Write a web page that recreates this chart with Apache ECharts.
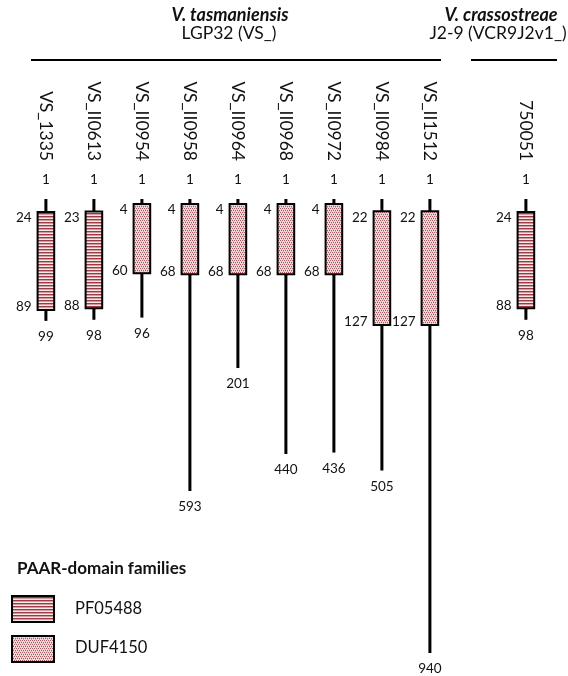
<!DOCTYPE html>
<html>
<head>
<meta charset="utf-8">
<script src="https://cdn.jsdelivr.net/npm/echarts@6.0.0/dist/echarts.min.js"></script>
<style>
  html, body { margin: 0; padding: 0; background: #fff; }
  #chart { width: 568px; height: 676px; }
</style>
</head>
<body>
<div id="chart"></div>
<script>
// proteins (one empty slot keeps the gap between the two strains)
var proteins = ['VS_1335', 'VS_II0613', 'VS_II0954', 'VS_II0958', 'VS_II0964', 'VS_II0968', 'VS_II0972', 'VS_II0984', 'VS_II1512', '', '750051'];
var proteinLength = [99, 98, 96, 593, 201, 440, 436, 505, 940, null, 98];
var domainStart = [24, 23, 4, 4, 4, 4, 4, 22, 22, null, 24];
var domainEnd = [89, 88, 60, 68, 68, 68, 68, 127, 127, null, 88];
var domainFamily = ['PF05488', 'PF05488', 'DUF4150', 'DUF4150', 'DUF4150', 'DUF4150', 'DUF4150', 'DUF4150', 'DUF4150', null, 'PF05488'];
var families = ['PF05488', 'DUF4150'];

var FONT = 'Lato, "Open Sans", sans-serif';

// fill patterns for the two families
function makePattern(w, h, bg, dots) {
  var c = document.createElement('canvas');
  c.width = w;
  c.height = h;
  var ctx = c.getContext('2d');
  ctx.fillStyle = bg;
  ctx.fillRect(0, 0, w, h);
  dots.forEach(function (d) {
    ctx.fillStyle = d[4];
    ctx.fillRect(d[0], d[1], d[2], d[3]);
  });
  return { image: c, repeat: 'repeat' };
}
var patterns = {
  PF05488: makePattern(4, 3, '#f6e8e8', [[0, 0, 4, 1, '#9c3a44'], [0, 1, 4, 1, '#cf9ca0']]),
  DUF4150: makePattern(4, 4, '#efd9da', [
    [0, 0, 1, 1, '#a65a62'], [2, 0, 1, 1, '#a65a62'], [1, 2, 1, 1, '#a65a62'], [3, 2, 1, 1, '#a65a62'],
    [1, 1, 1, 1, '#d6aaae'], [3, 3, 1, 1, '#d6aaae']
  ])
};

var data = [];
proteins.forEach(function (p, i) {
  if (proteinLength[i] == null) return;
  data.push([i, proteinLength[i], domainStart[i], domainEnd[i], families.indexOf(domainFamily[i])]);
});

function numText(str, x, y, align) {
  return {
    type: 'text',
    style: {
      text: str, x: x, y: y,
      align: align, verticalAlign: 'middle',
      fill: '#111', fontSize: 13.5, fontFamily: FONT
    }
  };
}

function renderItem(params, api) {
  var i = api.value(0);
  var top = api.coord([i, 1]);
  var bot = api.coord([i, api.value(1)]);
  var s = api.coord([i, api.value(2)]);
  var e = api.coord([i, api.value(3)]);
  var fam = families[api.value(4)];
  var x = top[0];
  var hw = 8.3;
  return {
    type: 'group',
    children: [
      { type: 'line', shape: { x1: x, y1: top[1], x2: x, y2: bot[1] }, style: { stroke: '#000', lineWidth: 3 } },
      { type: 'rect', shape: { x: x - hw, y: s[1], width: hw * 2, height: e[1] - s[1] },
        style: { fill: patterns[fam], stroke: '#000', lineWidth: 2 } },
      numText('1', x, top[1] - 19, 'center'),
      numText(String(api.value(2)), x - hw - 6, s[1] + 6, 'right'),
      numText(String(api.value(3)), x - hw - 6, e[1] - 3, 'right'),
      numText(String(api.value(1)), x, bot[1] + 16, 'center')
    ]
  };
}

var chart = echarts.init(document.getElementById('chart'), null, { renderer: 'canvas' });

var option = {
  backgroundColor: '#fff',
  animation: false,
  grid: { left: 21.9, right: 18.1, top: 199, bottom: 23, outerBoundsMode: 'none', containLabel: false },
  xAxis: {
    type: 'category',
    data: proteins,
    position: 'top',
    axisLine: { show: false },
    axisTick: { show: false },
    splitLine: { show: false },
    axisLabel: { interval: 0, rotate: 90, margin: 38, fontSize: 17.5, fontFamily: FONT, color: '#111' }
  },
  yAxis: {
    type: 'value',
    min: 1,
    max: 940,
    inverse: true,
    show: false,
    // the figure is schematic: long tails are squeezed
    breaks: [
      { start: 4, end: 24, gap: 4.65 },
      { start: 60, end: 68, gap: 0.59 },
      { start: 89, end: 99, gap: 6.47 },
      { start: 100, end: 127, gap: 1.41 },
      { start: 128, end: 201, gap: 24.3 },
      { start: 202, end: 440, gap: 49.6 },
      { start: 441, end: 593, gap: 20.8 },
      { start: 594, end: 940, gap: 94.3 }
    ],
    breakArea: { show: false },
    splitLine: { show: false }
  },
  series: [{
    type: 'custom',
    renderItem: renderItem,
    data: data,
    encode: { x: 0, y: 1 },
    silent: true
  }],
  graphic: [
    { type: 'text', style: { text: 'V. tasmaniensis', x: 230, y: 15, align: 'center', verticalAlign: 'middle', fontSize: 18, fontWeight: 'bold', fontStyle: 'italic', fontFamily: FONT, fill: '#111' } },
    { type: 'text', style: { text: 'LGP32 (VS_)', x: 229, y: 33, align: 'center', verticalAlign: 'middle', fontSize: 17.5, fontFamily: FONT, fill: '#111' } },
    { type: 'line', shape: { x1: 31, y1: 60, x2: 441, y2: 60 }, style: { stroke: '#000', lineWidth: 2 } },
    { type: 'text', style: { text: 'V. crassostreae', x: 501, y: 15, align: 'center', verticalAlign: 'middle', fontSize: 18, fontWeight: 'bold', fontStyle: 'italic', fontFamily: FONT, fill: '#111' } },
    { type: 'text', style: { text: 'J2-9 (VCR9J2v1_)', x: 498, y: 33, align: 'center', verticalAlign: 'middle', fontSize: 17.5, fontFamily: FONT, fill: '#111' } },
    { type: 'line', shape: { x1: 471, y1: 60, x2: 557, y2: 60 }, style: { stroke: '#000', lineWidth: 2 } },

    { type: 'text', style: { text: 'PAAR-domain families', x: 17, y: 569, verticalAlign: 'middle', fontSize: 17, fontWeight: 'bold', fontFamily: FONT, fill: '#111' } },
    { type: 'rect', shape: { x: 12, y: 596, width: 42, height: 26 }, style: { fill: patterns.PF05488, stroke: '#000', lineWidth: 2 } },
    { type: 'text', style: { text: families[0], x: 75, y: 609, verticalAlign: 'middle', fontSize: 16.5, fontFamily: FONT, fill: '#111' } },
    { type: 'rect', shape: { x: 12, y: 636, width: 42, height: 26 }, style: { fill: patterns.DUF4150, stroke: '#000', lineWidth: 2 } },
    { type: 'text', style: { text: families[1], x: 75, y: 648, verticalAlign: 'middle', fontSize: 16.5, fontFamily: FONT, fill: '#111' } }
  ]
};

chart.setOption(option);
</script>
</body>
</html>
